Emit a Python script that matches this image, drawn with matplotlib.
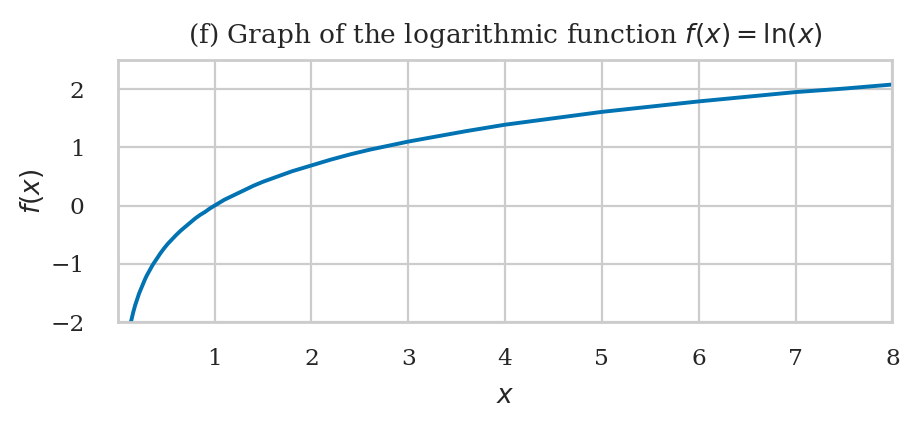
import matplotlib
matplotlib.use("Agg")
import matplotlib.pyplot as plt
import seaborn as sns

# Points
x_vals = [0.135, 0.14, 0.15, 0.16, 0.17, 0.18, 0.19, 0.2, 0.22, 0.24, 0.26, 0.28, 0.3, 0.33, 0.36,
          0.4, 0.44, 0.48, 0.52, 0.56, 0.6, 0.65, 0.7, 0.75, 0.8, 0.85, 0.9, 0.95, 1.0, 1.1, 1.2,
          1.3, 1.4, 1.5, 1.6, 1.7, 1.8, 1.9, 2.0, 2.2, 2.4, 2.6, 2.8, 3.0, 3.3, 3.6, 4.0, 4.5,
          5.0, 5.5, 6.0, 6.5, 7.0, 7.5, 8.0]
y_vals = [-2.00, -1.97, -1.90, -1.83, -1.77, -1.71, -1.66, -1.61, -1.51, -1.43, -1.35, -1.27,
          -1.20, -1.11, -1.02, -0.92, -0.82, -0.73, -0.65, -0.58, -0.51, -0.43, -0.36, -0.29,
          -0.22, -0.16, -0.11, -0.05, 0.00, 0.10, 0.18, 0.26, 0.34, 0.41, 0.47, 0.53, 0.59, 0.64,
          0.69, 0.79, 0.88, 0.96, 1.03, 1.10, 1.19, 1.28, 1.39, 1.50, 1.61, 1.70, 1.79, 1.87,
          1.95, 2.01, 2.08]
x_ticks = [1, 2, 3, 4, 5, 6, 7, 8]
y_ticks = [-2, -1, 0, 1, 2]

sns.set_theme(style="whitegrid")
plt.rcParams['font.family'] = ['DejaVu Serif']
plt.rcParams['mathtext.fontset'] = 'dejavusans'

fig, ax = plt.subplots(figsize=(4.6, 2.13), dpi=200)
fig.subplots_adjust(left=0.128, right=0.970, top=0.859, bottom=0.244)

ax.plot(x_vals, y_vals, color="#0173b2", lw=1.4)
ax.set_xlim(0, 8)
ax.set_ylim(-2, 2.5)
ax.set_xticks(x_ticks)
ax.set_yticks(y_ticks)
ax.tick_params(axis="x", labelsize=8.4, colors="#262626", pad=3.5)
ax.tick_params(axis="y", labelsize=8.4, colors="#262626", pad=6)
for s in ax.spines.values():
    s.set_color("#cccccc")
    s.set_linewidth(1.0)
ax.grid(color="#cccccc", lw=0.8)
ax.set_xlabel("$x$", fontsize=9.5, color="#262626", labelpad=4.5)
ax.set_ylabel("$f(x)$", fontsize=9.5, color="#262626", labelpad=1.5)
ax.set_title(r"(f) Graph of the logarithmic function $f(x) = \ln(x)$", fontsize=9.5, color="#262626", pad=6)

fig.savefig("out.png", dpi=200)
